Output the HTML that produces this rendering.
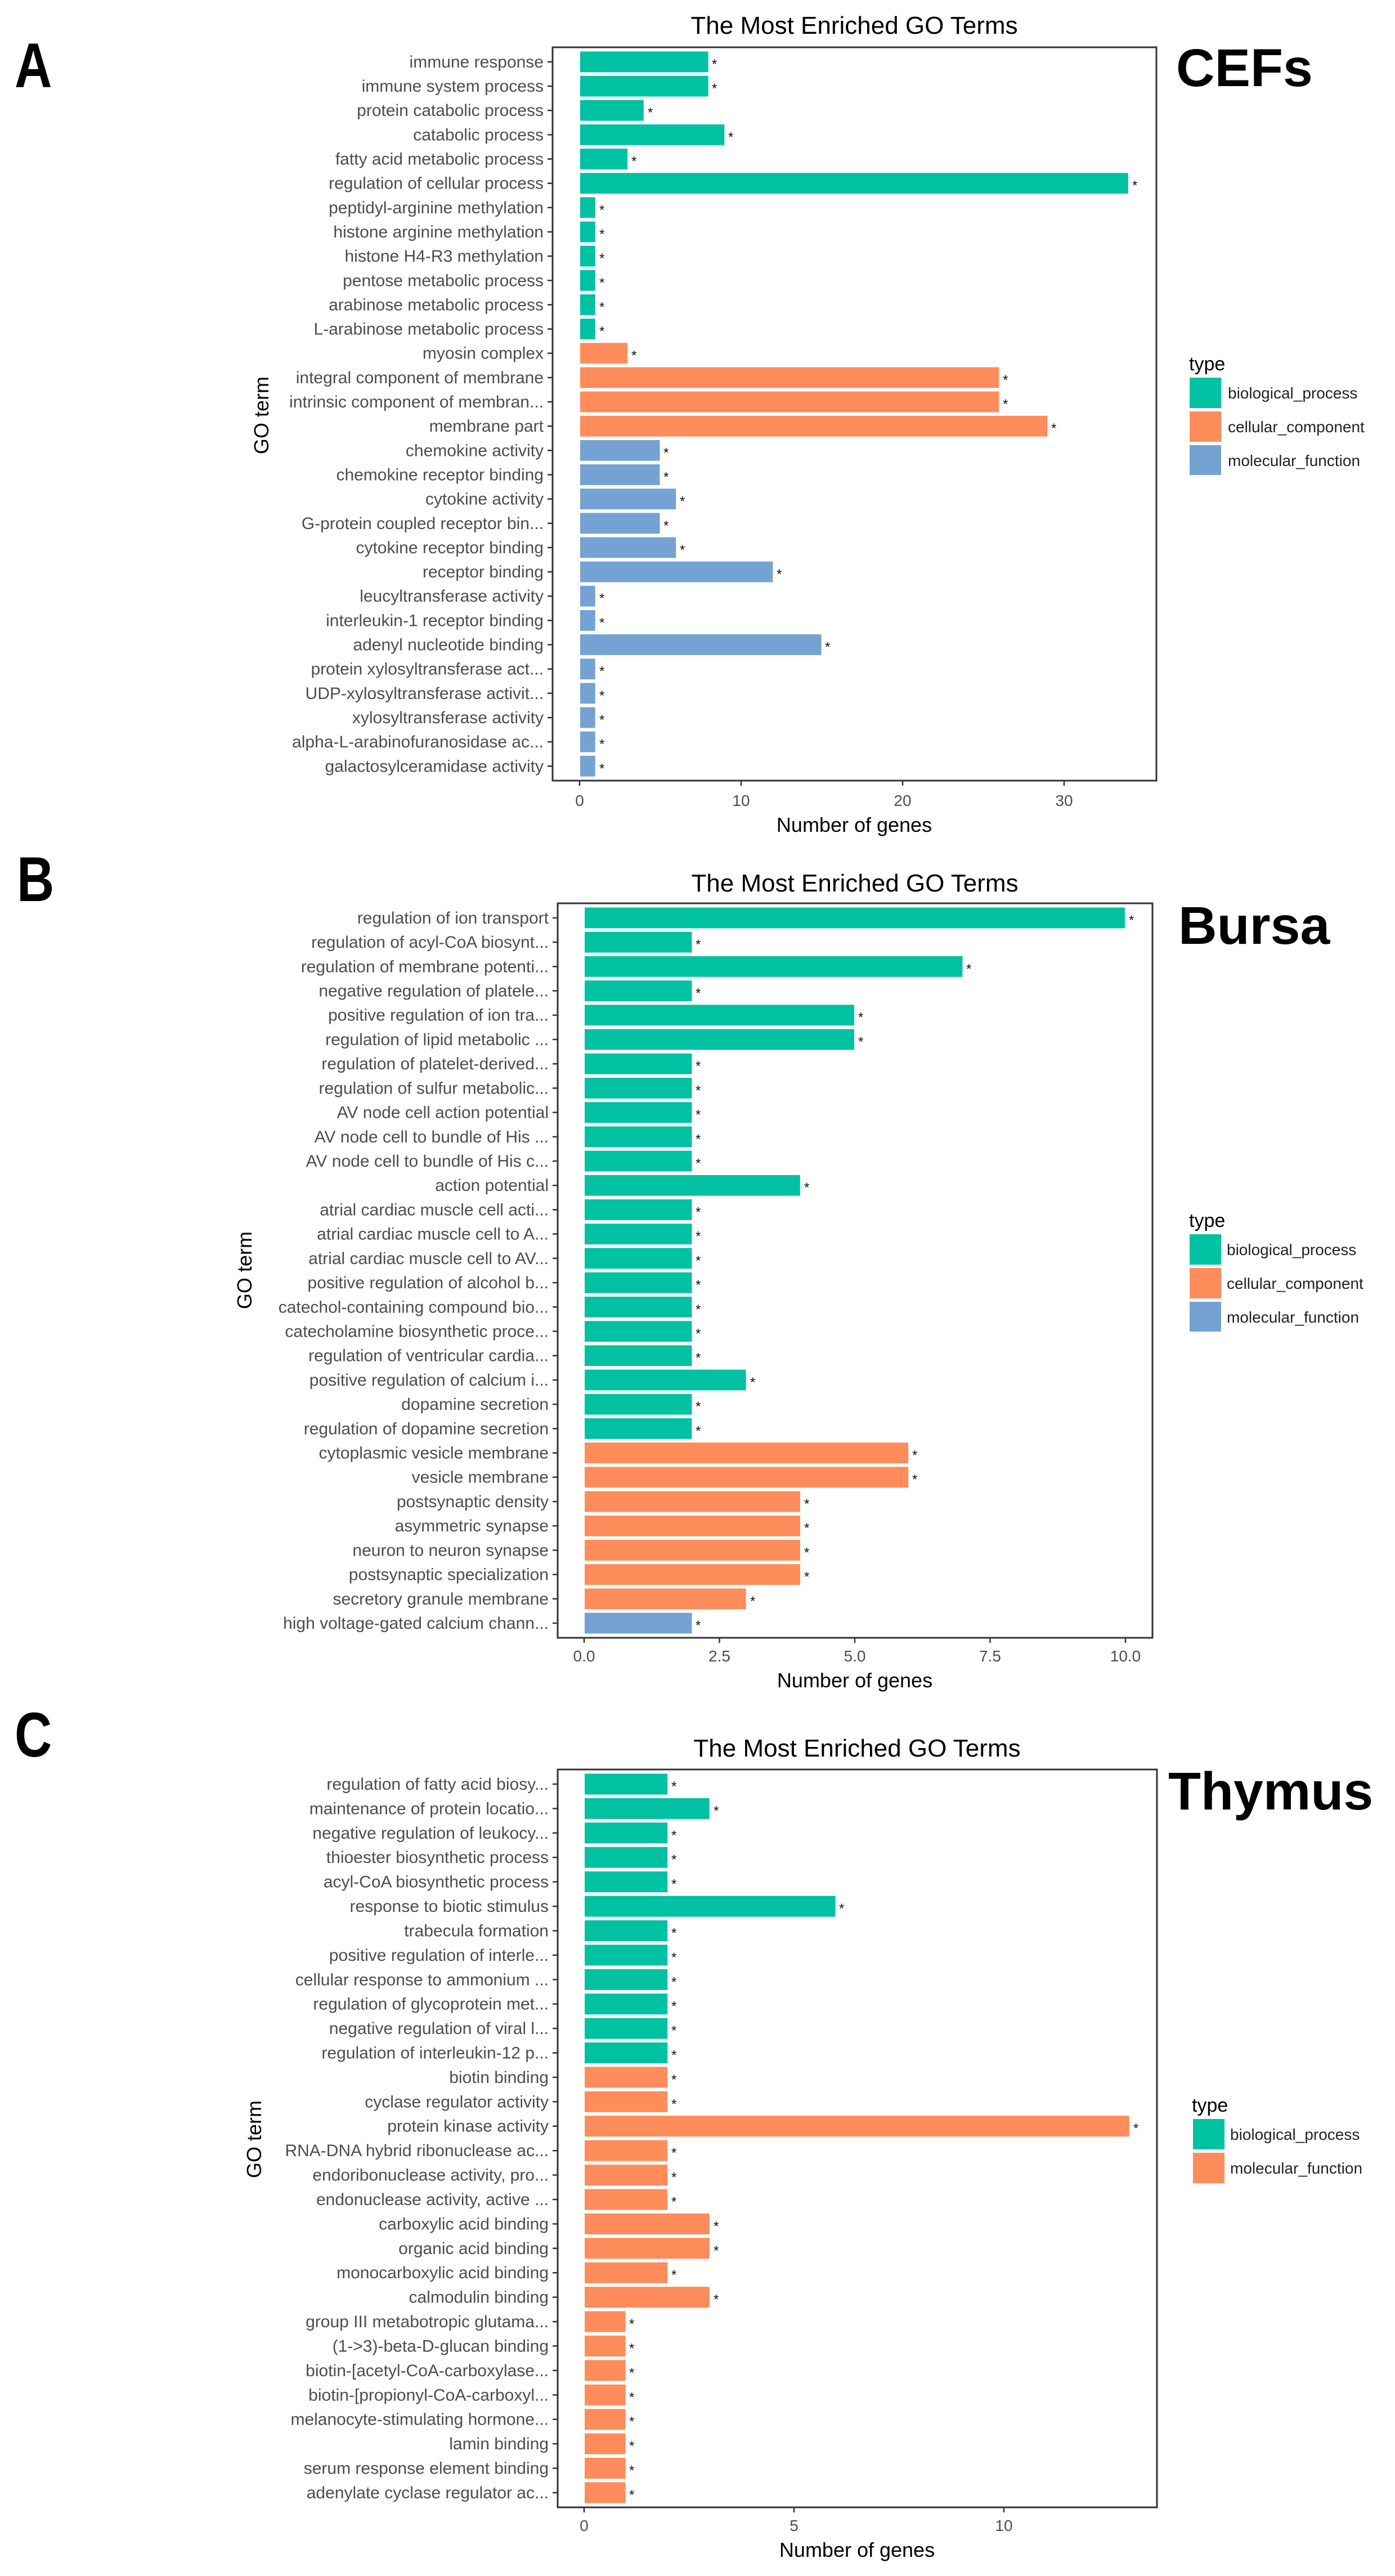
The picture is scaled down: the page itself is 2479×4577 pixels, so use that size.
<!DOCTYPE html>
<html><head><meta charset="utf-8"><style>
html,body{margin:0;padding:0;background:#fff}
svg{display:block}
.l{font:30px "Liberation Sans",sans-serif;fill:#4d4d4d;text-anchor:end}
.s{font:24px "Liberation Sans",sans-serif;fill:#111}
.bp{fill:#00C1A2;stroke:#fff;stroke-width:2}
.cc{fill:#FF8C5A;stroke:#fff;stroke-width:2}
.mf{fill:#74A2D2;stroke:#fff;stroke-width:2}
.t{stroke:#333;stroke-width:2.5}
.box{fill:none;stroke:#333;stroke-width:3}
.tk{font:28px "Liberation Sans",sans-serif;fill:#4d4d4d;text-anchor:middle}
.ax{font:36px "Liberation Sans",sans-serif;fill:#000;text-anchor:middle}
.ti{font:44px "Liberation Sans",sans-serif;fill:#000;text-anchor:middle}
.lg{font:28px "Liberation Sans",sans-serif;fill:#222}
.ty{font:34px "Liberation Sans",sans-serif;fill:#000}
.big{font:bold 112px "Liberation Sans",sans-serif;fill:#000}
.nm{font:bold 95px "Liberation Sans",sans-serif;fill:#000}
</style></head><body>
<svg width="2479" height="4577" viewBox="0 0 2479 4577" xmlns="http://www.w3.org/2000/svg">
<rect width="2479" height="4577" fill="#fff"/>

<!-- ================= PANEL A ================= -->
<text class="big" x="26" y="155" transform="translate(26,0) scale(0.82,1) translate(-26,0)">A</text>
<text class="nm" x="2090" y="153">CEFs</text>
<text class="ti" x="1518" y="60">The Most Enriched GO Terms</text>
<text class="ax" x="465" y="738" transform="rotate(-90 465 738)" dy="12">GO term</text>
<g>
<g transform="translate(0,109.9)"><rect class="bp" x="1030" y="-19.4" width="229.6" height="38.8"/><path class="t" d="M973 0h9"/><text class="l" x="966" y="10">immune response</text><text class="s" x="1265" y="12">*</text></g>
<g transform="translate(0,153.1)"><rect class="bp" x="1030" y="-19.4" width="229.6" height="38.8"/><path class="t" d="M973 0h9"/><text class="l" x="966" y="10">immune system process</text><text class="s" x="1265" y="12">*</text></g>
<g transform="translate(0,196.2)"><rect class="bp" x="1030" y="-19.4" width="114.8" height="38.8"/><path class="t" d="M973 0h9"/><text class="l" x="966" y="10">protein catabolic process</text><text class="s" x="1151" y="12">*</text></g>
<g transform="translate(0,239.4)"><rect class="bp" x="1030" y="-19.4" width="258.3" height="38.8"/><path class="t" d="M973 0h9"/><text class="l" x="966" y="10">catabolic process</text><text class="s" x="1294" y="12">*</text></g>
<g transform="translate(0,282.5)"><rect class="bp" x="1030" y="-19.4" width="86.1" height="38.8"/><path class="t" d="M973 0h9"/><text class="l" x="966" y="10">fatty acid metabolic process</text><text class="s" x="1122" y="12">*</text></g>
<g transform="translate(0,325.7)"><rect class="bp" x="1030" y="-19.4" width="975.8" height="38.8"/><path class="t" d="M973 0h9"/><text class="l" x="966" y="10">regulation of cellular process</text><text class="s" x="2012" y="12">*</text></g>
<g transform="translate(0,368.8)"><rect class="bp" x="1030" y="-19.4" width="28.7" height="38.8"/><path class="t" d="M973 0h9"/><text class="l" x="966" y="10">peptidyl-arginine methylation</text><text class="s" x="1065" y="12">*</text></g>
<g transform="translate(0,412.0)"><rect class="bp" x="1030" y="-19.4" width="28.7" height="38.8"/><path class="t" d="M973 0h9"/><text class="l" x="966" y="10">histone arginine methylation</text><text class="s" x="1065" y="12">*</text></g>
<g transform="translate(0,455.1)"><rect class="bp" x="1030" y="-19.4" width="28.7" height="38.8"/><path class="t" d="M973 0h9"/><text class="l" x="966" y="10">histone H4-R3 methylation</text><text class="s" x="1065" y="12">*</text></g>
<g transform="translate(0,498.3)"><rect class="bp" x="1030" y="-19.4" width="28.7" height="38.8"/><path class="t" d="M973 0h9"/><text class="l" x="966" y="10">pentose metabolic process</text><text class="s" x="1065" y="12">*</text></g>
<g transform="translate(0,541.4)"><rect class="bp" x="1030" y="-19.4" width="28.7" height="38.8"/><path class="t" d="M973 0h9"/><text class="l" x="966" y="10">arabinose metabolic process</text><text class="s" x="1065" y="12">*</text></g>
<g transform="translate(0,584.6)"><rect class="bp" x="1030" y="-19.4" width="28.7" height="38.8"/><path class="t" d="M973 0h9"/><text class="l" x="966" y="10">L-arabinose metabolic process</text><text class="s" x="1065" y="12">*</text></g>
<g transform="translate(0,627.7)"><rect class="cc" x="1030" y="-19.4" width="86.1" height="38.8"/><path class="t" d="M973 0h9"/><text class="l" x="966" y="10">myosin complex</text><text class="s" x="1122" y="12">*</text></g>
<g transform="translate(0,670.9)"><rect class="cc" x="1030" y="-19.4" width="746.2" height="38.8"/><path class="t" d="M973 0h9"/><text class="l" x="966" y="10">integral component of membrane</text><text class="s" x="1782" y="12">*</text></g>
<g transform="translate(0,714.0)"><rect class="cc" x="1030" y="-19.4" width="746.2" height="38.8"/><path class="t" d="M973 0h9"/><text class="l" x="966" y="10">intrinsic component of membran...</text><text class="s" x="1782" y="12">*</text></g>
<g transform="translate(0,757.2)"><rect class="cc" x="1030" y="-19.4" width="832.3" height="38.8"/><path class="t" d="M973 0h9"/><text class="l" x="966" y="10">membrane part</text><text class="s" x="1868" y="12">*</text></g>
<g transform="translate(0,800.3)"><rect class="mf" x="1030" y="-19.4" width="143.5" height="38.8"/><path class="t" d="M973 0h9"/><text class="l" x="966" y="10">chemokine activity</text><text class="s" x="1179" y="12">*</text></g>
<g transform="translate(0,843.5)"><rect class="mf" x="1030" y="-19.4" width="143.5" height="38.8"/><path class="t" d="M973 0h9"/><text class="l" x="966" y="10">chemokine receptor binding</text><text class="s" x="1179" y="12">*</text></g>
<g transform="translate(0,886.6)"><rect class="mf" x="1030" y="-19.4" width="172.2" height="38.8"/><path class="t" d="M973 0h9"/><text class="l" x="966" y="10">cytokine activity</text><text class="s" x="1208" y="12">*</text></g>
<g transform="translate(0,929.8)"><rect class="mf" x="1030" y="-19.4" width="143.5" height="38.8"/><path class="t" d="M973 0h9"/><text class="l" x="966" y="10">G-protein coupled receptor bin...</text><text class="s" x="1179" y="12">*</text></g>
<g transform="translate(0,972.9)"><rect class="mf" x="1030" y="-19.4" width="172.2" height="38.8"/><path class="t" d="M973 0h9"/><text class="l" x="966" y="10">cytokine receptor binding</text><text class="s" x="1208" y="12">*</text></g>
<g transform="translate(0,1016.1)"><rect class="mf" x="1030" y="-19.4" width="344.4" height="38.8"/><path class="t" d="M973 0h9"/><text class="l" x="966" y="10">receptor binding</text><text class="s" x="1380" y="12">*</text></g>
<g transform="translate(0,1059.2)"><rect class="mf" x="1030" y="-19.4" width="28.7" height="38.8"/><path class="t" d="M973 0h9"/><text class="l" x="966" y="10">leucyltransferase activity</text><text class="s" x="1065" y="12">*</text></g>
<g transform="translate(0,1102.4)"><rect class="mf" x="1030" y="-19.4" width="28.7" height="38.8"/><path class="t" d="M973 0h9"/><text class="l" x="966" y="10">interleukin-1 receptor binding</text><text class="s" x="1065" y="12">*</text></g>
<g transform="translate(0,1145.5)"><rect class="mf" x="1030" y="-19.4" width="430.5" height="38.8"/><path class="t" d="M973 0h9"/><text class="l" x="966" y="10">adenyl nucleotide binding</text><text class="s" x="1466" y="12">*</text></g>
<g transform="translate(0,1188.7)"><rect class="mf" x="1030" y="-19.4" width="28.7" height="38.8"/><path class="t" d="M973 0h9"/><text class="l" x="966" y="10">protein xylosyltransferase act...</text><text class="s" x="1065" y="12">*</text></g>
<g transform="translate(0,1231.8)"><rect class="mf" x="1030" y="-19.4" width="28.7" height="38.8"/><path class="t" d="M973 0h9"/><text class="l" x="966" y="10">UDP-xylosyltransferase activit...</text><text class="s" x="1065" y="12">*</text></g>
<g transform="translate(0,1275.0)"><rect class="mf" x="1030" y="-19.4" width="28.7" height="38.8"/><path class="t" d="M973 0h9"/><text class="l" x="966" y="10">xylosyltransferase activity</text><text class="s" x="1065" y="12">*</text></g>
<g transform="translate(0,1318.1)"><rect class="mf" x="1030" y="-19.4" width="28.7" height="38.8"/><path class="t" d="M973 0h9"/><text class="l" x="966" y="10">alpha-L-arabinofuranosidase ac...</text><text class="s" x="1065" y="12">*</text></g>
<g transform="translate(0,1361.3)"><rect class="mf" x="1030" y="-19.4" width="28.7" height="38.8"/><path class="t" d="M973 0h9"/><text class="l" x="966" y="10">galactosylceramidase activity</text><text class="s" x="1065" y="12">*</text></g>
</g>
<rect class="box" x="982" y="84" width="1073" height="1303"/>
<path class="t" d="M1030 1387v9M1317 1387v9M1604 1387v9M1891 1387v9"/>
<text class="tk" x="1030" y="1432">0</text><text class="tk" x="1317" y="1432">10</text><text class="tk" x="1604" y="1432">20</text><text class="tk" x="1891" y="1432">30</text>
<text class="ax" x="1518" y="1478">Number of genes</text>
<text class="ty" x="2113" y="658">type</text>
<rect class="bp" x="2113" y="670" width="58" height="56"/><text class="lg" x="2182" y="708">biological_process</text>
<rect class="cc" x="2113" y="730" width="58" height="56"/><text class="lg" x="2182" y="768">cellular_component</text>
<rect class="mf" x="2113" y="790" width="58" height="55"/><text class="lg" x="2182" y="828">molecular_function</text>

<!-- ================= PANEL B ================= -->
<text class="big" x="30" y="1601" transform="translate(30,0) scale(0.82,1) translate(-30,0)">B</text>
<text class="nm" x="2094" y="1677">Bursa</text>
<text class="ti" x="1519" y="1584">The Most Enriched GO Terms</text>
<text class="ax" x="435" y="2257" transform="rotate(-90 435 2257)" dy="12">GO term</text>
<g>
<g transform="translate(0,1630.9)"><rect class="bp" x="1038" y="-19.4" width="962" height="38.8"/><path class="t" d="M982 0h9"/><text class="l" x="975" y="10">regulation of ion transport</text><text class="s" x="2006" y="12">*</text></g>
<g transform="translate(0,1674.1)"><rect class="bp" x="1038" y="-19.4" width="192.4" height="38.8"/><path class="t" d="M982 0h9"/><text class="l" x="975" y="10">regulation of acyl-CoA biosynt...</text><text class="s" x="1236" y="12">*</text></g>
<g transform="translate(0,1717.3)"><rect class="bp" x="1038" y="-19.4" width="673.4" height="38.8"/><path class="t" d="M982 0h9"/><text class="l" x="975" y="10">regulation of membrane potenti...</text><text class="s" x="1717" y="12">*</text></g>
<g transform="translate(0,1760.5)"><rect class="bp" x="1038" y="-19.4" width="192.4" height="38.8"/><path class="t" d="M982 0h9"/><text class="l" x="975" y="10">negative regulation of platele...</text><text class="s" x="1236" y="12">*</text></g>
<g transform="translate(0,1803.7)"><rect class="bp" x="1038" y="-19.4" width="481" height="38.8"/><path class="t" d="M982 0h9"/><text class="l" x="975" y="10">positive regulation of ion tra...</text><text class="s" x="1525" y="12">*</text></g>
<g transform="translate(0,1846.9)"><rect class="bp" x="1038" y="-19.4" width="481" height="38.8"/><path class="t" d="M982 0h9"/><text class="l" x="975" y="10">regulation of lipid metabolic ...</text><text class="s" x="1525" y="12">*</text></g>
<g transform="translate(0,1890.2)"><rect class="bp" x="1038" y="-19.4" width="192.4" height="38.8"/><path class="t" d="M982 0h9"/><text class="l" x="975" y="10">regulation of platelet-derived...</text><text class="s" x="1236" y="12">*</text></g>
<g transform="translate(0,1933.4)"><rect class="bp" x="1038" y="-19.4" width="192.4" height="38.8"/><path class="t" d="M982 0h9"/><text class="l" x="975" y="10">regulation of sulfur metabolic...</text><text class="s" x="1236" y="12">*</text></g>
<g transform="translate(0,1976.6)"><rect class="bp" x="1038" y="-19.4" width="192.4" height="38.8"/><path class="t" d="M982 0h9"/><text class="l" x="975" y="10">AV node cell action potential</text><text class="s" x="1236" y="12">*</text></g>
<g transform="translate(0,2019.8)"><rect class="bp" x="1038" y="-19.4" width="192.4" height="38.8"/><path class="t" d="M982 0h9"/><text class="l" x="975" y="10">AV node cell to bundle of His ...</text><text class="s" x="1236" y="12">*</text></g>
<g transform="translate(0,2063.0)"><rect class="bp" x="1038" y="-19.4" width="192.4" height="38.8"/><path class="t" d="M982 0h9"/><text class="l" x="975" y="10">AV node cell to bundle of His c...</text><text class="s" x="1236" y="12">*</text></g>
<g transform="translate(0,2106.2)"><rect class="bp" x="1038" y="-19.4" width="384.8" height="38.8"/><path class="t" d="M982 0h9"/><text class="l" x="975" y="10">action potential</text><text class="s" x="1429" y="12">*</text></g>
<g transform="translate(0,2149.4)"><rect class="bp" x="1038" y="-19.4" width="192.4" height="38.8"/><path class="t" d="M982 0h9"/><text class="l" x="975" y="10">atrial cardiac muscle cell acti...</text><text class="s" x="1236" y="12">*</text></g>
<g transform="translate(0,2192.6)"><rect class="bp" x="1038" y="-19.4" width="192.4" height="38.8"/><path class="t" d="M982 0h9"/><text class="l" x="975" y="10">atrial cardiac muscle cell to A...</text><text class="s" x="1236" y="12">*</text></g>
<g transform="translate(0,2235.8)"><rect class="bp" x="1038" y="-19.4" width="192.4" height="38.8"/><path class="t" d="M982 0h9"/><text class="l" x="975" y="10">atrial cardiac muscle cell to AV...</text><text class="s" x="1236" y="12">*</text></g>
<g transform="translate(0,2279.1)"><rect class="bp" x="1038" y="-19.4" width="192.4" height="38.8"/><path class="t" d="M982 0h9"/><text class="l" x="975" y="10">positive regulation of alcohol b...</text><text class="s" x="1236" y="12">*</text></g>
<g transform="translate(0,2322.3)"><rect class="bp" x="1038" y="-19.4" width="192.4" height="38.8"/><path class="t" d="M982 0h9"/><text class="l" x="975" y="10">catechol-containing compound bio...</text><text class="s" x="1236" y="12">*</text></g>
<g transform="translate(0,2365.5)"><rect class="bp" x="1038" y="-19.4" width="192.4" height="38.8"/><path class="t" d="M982 0h9"/><text class="l" x="975" y="10">catecholamine biosynthetic proce...</text><text class="s" x="1236" y="12">*</text></g>
<g transform="translate(0,2408.7)"><rect class="bp" x="1038" y="-19.4" width="192.4" height="38.8"/><path class="t" d="M982 0h9"/><text class="l" x="975" y="10">regulation of ventricular cardia...</text><text class="s" x="1236" y="12">*</text></g>
<g transform="translate(0,2451.9)"><rect class="bp" x="1038" y="-19.4" width="288.6" height="38.8"/><path class="t" d="M982 0h9"/><text class="l" x="975" y="10">positive regulation of calcium i...</text><text class="s" x="1333" y="12">*</text></g>
<g transform="translate(0,2495.1)"><rect class="bp" x="1038" y="-19.4" width="192.4" height="38.8"/><path class="t" d="M982 0h9"/><text class="l" x="975" y="10">dopamine secretion</text><text class="s" x="1236" y="12">*</text></g>
<g transform="translate(0,2538.3)"><rect class="bp" x="1038" y="-19.4" width="192.4" height="38.8"/><path class="t" d="M982 0h9"/><text class="l" x="975" y="10">regulation of dopamine secretion</text><text class="s" x="1236" y="12">*</text></g>
<g transform="translate(0,2581.5)"><rect class="cc" x="1038" y="-19.4" width="577.2" height="38.8"/><path class="t" d="M982 0h9"/><text class="l" x="975" y="10">cytoplasmic vesicle membrane</text><text class="s" x="1621" y="12">*</text></g>
<g transform="translate(0,2624.7)"><rect class="cc" x="1038" y="-19.4" width="577.2" height="38.8"/><path class="t" d="M982 0h9"/><text class="l" x="975" y="10">vesicle membrane</text><text class="s" x="1621" y="12">*</text></g>
<g transform="translate(0,2668.0)"><rect class="cc" x="1038" y="-19.4" width="384.8" height="38.8"/><path class="t" d="M982 0h9"/><text class="l" x="975" y="10">postsynaptic density</text><text class="s" x="1429" y="12">*</text></g>
<g transform="translate(0,2711.2)"><rect class="cc" x="1038" y="-19.4" width="384.8" height="38.8"/><path class="t" d="M982 0h9"/><text class="l" x="975" y="10">asymmetric synapse</text><text class="s" x="1429" y="12">*</text></g>
<g transform="translate(0,2754.4)"><rect class="cc" x="1038" y="-19.4" width="384.8" height="38.8"/><path class="t" d="M982 0h9"/><text class="l" x="975" y="10">neuron to neuron synapse</text><text class="s" x="1429" y="12">*</text></g>
<g transform="translate(0,2797.6)"><rect class="cc" x="1038" y="-19.4" width="384.8" height="38.8"/><path class="t" d="M982 0h9"/><text class="l" x="975" y="10">postsynaptic specialization</text><text class="s" x="1429" y="12">*</text></g>
<g transform="translate(0,2840.8)"><rect class="cc" x="1038" y="-19.4" width="288.6" height="38.8"/><path class="t" d="M982 0h9"/><text class="l" x="975" y="10">secretory granule membrane</text><text class="s" x="1333" y="12">*</text></g>
<g transform="translate(0,2884.0)"><rect class="mf" x="1038" y="-19.4" width="192.4" height="38.8"/><path class="t" d="M982 0h9"/><text class="l" x="975" y="10">high voltage-gated calcium chann...</text><text class="s" x="1236" y="12">*</text></g>
</g>
<rect class="box" x="991" y="1605" width="1057" height="1305"/>
<path class="t" d="M1038 2910v9M1278.5 2910v9M1519 2910v9M1759.5 2910v9M2000 2910v9"/>
<text class="tk" x="1038" y="2952">0.0</text><text class="tk" x="1278.5" y="2952">2.5</text><text class="tk" x="1519" y="2952">5.0</text><text class="tk" x="1759.5" y="2952">7.5</text><text class="tk" x="2000" y="2952">10.0</text>
<text class="ax" x="1519" y="2998">Number of genes</text>
<text class="ty" x="2113" y="2180">type</text>
<rect class="bp" x="2113" y="2192" width="58" height="56"/><text class="lg" x="2180" y="2230">biological_process</text>
<rect class="cc" x="2113" y="2252" width="58" height="56"/><text class="lg" x="2180" y="2290">cellular_component</text>
<rect class="mf" x="2113" y="2312" width="58" height="55"/><text class="lg" x="2180" y="2350">molecular_function</text>

<!-- ================= PANEL C ================= -->
<text class="big" x="26" y="3121" transform="translate(26,0) scale(0.82,1) translate(-26,0)">C</text>
<text class="nm" x="2076" y="3215">Thymus</text>
<text class="ti" x="1523" y="3121">The Most Enriched GO Terms</text>
<text class="ax" x="452" y="3801" transform="rotate(-90 452 3801)" dy="12">GO term</text>
<g>
<g transform="translate(0,3170)"><rect class="bp" x="1038" y="-19.5" width="149.2" height="39"/><path class="t" d="M982 0h9"/><text class="l" x="975" y="10">regulation of fatty acid biosy...</text><text class="s" x="1193" y="12">*</text></g>
<g transform="translate(0,3213.4)"><rect class="bp" x="1038" y="-19.5" width="223.8" height="39"/><path class="t" d="M982 0h9"/><text class="l" x="975" y="10">maintenance of protein locatio...</text><text class="s" x="1268" y="12">*</text></g>
<g transform="translate(0,3256.8)"><rect class="bp" x="1038" y="-19.5" width="149.2" height="39"/><path class="t" d="M982 0h9"/><text class="l" x="975" y="10">negative regulation of leukocy...</text><text class="s" x="1193" y="12">*</text></g>
<g transform="translate(0,3300.2)"><rect class="bp" x="1038" y="-19.5" width="149.2" height="39"/><path class="t" d="M982 0h9"/><text class="l" x="975" y="10">thioester biosynthetic process</text><text class="s" x="1193" y="12">*</text></g>
<g transform="translate(0,3343.6)"><rect class="bp" x="1038" y="-19.5" width="149.2" height="39"/><path class="t" d="M982 0h9"/><text class="l" x="975" y="10">acyl-CoA biosynthetic process</text><text class="s" x="1193" y="12">*</text></g>
<g transform="translate(0,3387.1)"><rect class="bp" x="1038" y="-19.5" width="447.6" height="39"/><path class="t" d="M982 0h9"/><text class="l" x="975" y="10">response to biotic stimulus</text><text class="s" x="1491" y="12">*</text></g>
<g transform="translate(0,3430.5)"><rect class="bp" x="1038" y="-19.5" width="149.2" height="39"/><path class="t" d="M982 0h9"/><text class="l" x="975" y="10">trabecula formation</text><text class="s" x="1193" y="12">*</text></g>
<g transform="translate(0,3473.9)"><rect class="bp" x="1038" y="-19.5" width="149.2" height="39"/><path class="t" d="M982 0h9"/><text class="l" x="975" y="10">positive regulation of interle...</text><text class="s" x="1193" y="12">*</text></g>
<g transform="translate(0,3517.3)"><rect class="bp" x="1038" y="-19.5" width="149.2" height="39"/><path class="t" d="M982 0h9"/><text class="l" x="975" y="10">cellular response to ammonium ...</text><text class="s" x="1193" y="12">*</text></g>
<g transform="translate(0,3560.7)"><rect class="bp" x="1038" y="-19.5" width="149.2" height="39"/><path class="t" d="M982 0h9"/><text class="l" x="975" y="10">regulation of glycoprotein met...</text><text class="s" x="1193" y="12">*</text></g>
<g transform="translate(0,3604.1)"><rect class="bp" x="1038" y="-19.5" width="149.2" height="39"/><path class="t" d="M982 0h9"/><text class="l" x="975" y="10">negative regulation of viral l...</text><text class="s" x="1193" y="12">*</text></g>
<g transform="translate(0,3647.5)"><rect class="bp" x="1038" y="-19.5" width="149.2" height="39"/><path class="t" d="M982 0h9"/><text class="l" x="975" y="10">regulation of interleukin-12 p...</text><text class="s" x="1193" y="12">*</text></g>
<g transform="translate(0,3690.9)"><rect class="cc" x="1038" y="-19.5" width="149.2" height="39"/><path class="t" d="M982 0h9"/><text class="l" x="975" y="10">biotin binding</text><text class="s" x="1193" y="12">*</text></g>
<g transform="translate(0,3734.3)"><rect class="cc" x="1038" y="-19.5" width="149.2" height="39"/><path class="t" d="M982 0h9"/><text class="l" x="975" y="10">cyclase regulator activity</text><text class="s" x="1193" y="12">*</text></g>
<g transform="translate(0,3777.7)"><rect class="cc" x="1038" y="-19.5" width="969.8" height="39"/><path class="t" d="M982 0h9"/><text class="l" x="975" y="10">protein kinase activity</text><text class="s" x="2014" y="12">*</text></g>
<g transform="translate(0,3821.2)"><rect class="cc" x="1038" y="-19.5" width="149.2" height="39"/><path class="t" d="M982 0h9"/><text class="l" x="975" y="10">RNA-DNA hybrid ribonuclease ac...</text><text class="s" x="1193" y="12">*</text></g>
<g transform="translate(0,3864.6)"><rect class="cc" x="1038" y="-19.5" width="149.2" height="39"/><path class="t" d="M982 0h9"/><text class="l" x="975" y="10">endoribonuclease activity, pro...</text><text class="s" x="1193" y="12">*</text></g>
<g transform="translate(0,3908.0)"><rect class="cc" x="1038" y="-19.5" width="149.2" height="39"/><path class="t" d="M982 0h9"/><text class="l" x="975" y="10">endonuclease activity, active ...</text><text class="s" x="1193" y="12">*</text></g>
<g transform="translate(0,3951.4)"><rect class="cc" x="1038" y="-19.5" width="223.8" height="39"/><path class="t" d="M982 0h9"/><text class="l" x="975" y="10">carboxylic acid binding</text><text class="s" x="1268" y="12">*</text></g>
<g transform="translate(0,3994.8)"><rect class="cc" x="1038" y="-19.5" width="223.8" height="39"/><path class="t" d="M982 0h9"/><text class="l" x="975" y="10">organic acid binding</text><text class="s" x="1268" y="12">*</text></g>
<g transform="translate(0,4038.2)"><rect class="cc" x="1038" y="-19.5" width="149.2" height="39"/><path class="t" d="M982 0h9"/><text class="l" x="975" y="10">monocarboxylic acid binding</text><text class="s" x="1193" y="12">*</text></g>
<g transform="translate(0,4081.6)"><rect class="cc" x="1038" y="-19.5" width="223.8" height="39"/><path class="t" d="M982 0h9"/><text class="l" x="975" y="10">calmodulin binding</text><text class="s" x="1268" y="12">*</text></g>
<g transform="translate(0,4125.0)"><rect class="cc" x="1038" y="-19.5" width="74.6" height="39"/><path class="t" d="M982 0h9"/><text class="l" x="975" y="10">group III metabotropic glutama...</text><text class="s" x="1118" y="12">*</text></g>
<g transform="translate(0,4168.4)"><rect class="cc" x="1038" y="-19.5" width="74.6" height="39"/><path class="t" d="M982 0h9"/><text class="l" x="975" y="10">(1-&gt;3)-beta-D-glucan binding</text><text class="s" x="1118" y="12">*</text></g>
<g transform="translate(0,4211.8)"><rect class="cc" x="1038" y="-19.5" width="74.6" height="39"/><path class="t" d="M982 0h9"/><text class="l" x="975" y="10">biotin-[acetyl-CoA-carboxylase...</text><text class="s" x="1118" y="12">*</text></g>
<g transform="translate(0,4255.3)"><rect class="cc" x="1038" y="-19.5" width="74.6" height="39"/><path class="t" d="M982 0h9"/><text class="l" x="975" y="10">biotin-[propionyl-CoA-carboxyl...</text><text class="s" x="1118" y="12">*</text></g>
<g transform="translate(0,4298.7)"><rect class="cc" x="1038" y="-19.5" width="74.6" height="39"/><path class="t" d="M982 0h9"/><text class="l" x="975" y="10">melanocyte-stimulating hormone...</text><text class="s" x="1118" y="12">*</text></g>
<g transform="translate(0,4342.1)"><rect class="cc" x="1038" y="-19.5" width="74.6" height="39"/><path class="t" d="M982 0h9"/><text class="l" x="975" y="10">lamin binding</text><text class="s" x="1118" y="12">*</text></g>
<g transform="translate(0,4385.5)"><rect class="cc" x="1038" y="-19.5" width="74.6" height="39"/><path class="t" d="M982 0h9"/><text class="l" x="975" y="10">serum response element binding</text><text class="s" x="1118" y="12">*</text></g>
<g transform="translate(0,4428.9)"><rect class="cc" x="1038" y="-19.5" width="74.6" height="39"/><path class="t" d="M982 0h9"/><text class="l" x="975" y="10">adenylate cyclase regulator ac...</text><text class="s" x="1118" y="12">*</text></g>
</g>
<rect class="box" x="991" y="3144" width="1065" height="1311"/>
<path class="t" d="M1038 4455v9M1411 4455v9M1784 4455v9"/>
<text class="tk" x="1038" y="4497">0</text><text class="tk" x="1411" y="4497">5</text><text class="tk" x="1784" y="4497">10</text>
<text class="ax" x="1523" y="4543">Number of genes</text>
<text class="ty" x="2118" y="3752">type</text>
<rect class="bp" x="2119" y="3764" width="58" height="56"/><text class="lg" x="2186" y="3802">biological_process</text>
<rect class="cc" x="2119" y="3824" width="58" height="56"/><text class="lg" x="2186" y="3862">molecular_function</text>
</svg>
</body></html>
